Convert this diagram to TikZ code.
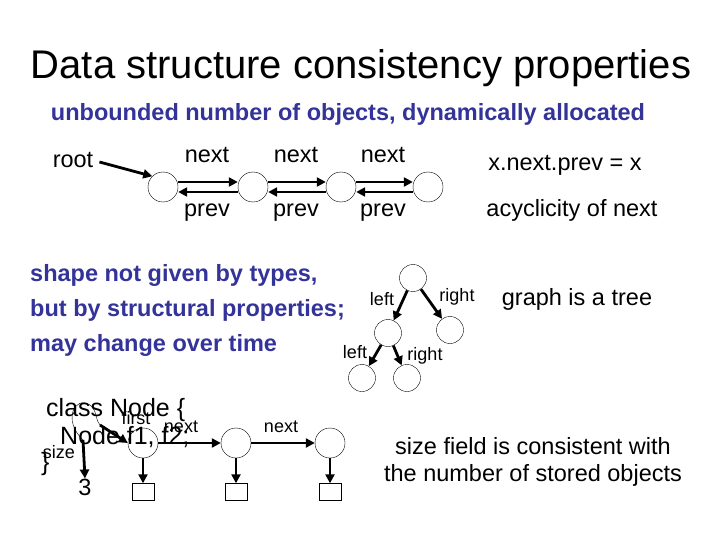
\documentclass[tikz,border=0pt]{standalone}
\usepackage{fontspec}
\setmainfont{Liberation Sans}
\usetikzlibrary{arrows.meta}
\definecolor{navy}{HTML}{333399}
\begin{document}
\begin{tikzpicture}[x=1pt,y=-1pt,
  obj/.style={circle,draw,thin,minimum size=30pt,inner sep=0},
  box/.style={draw,thin,minimum width=22pt,minimum height=17pt,inner sep=0},
  lnk/.style={line width=2.8pt,-{Triangle[length=9pt,width=9pt]}},
  lab/.style={font=\fontsize{23.5}{23.5}\selectfont,inner sep=0},
  sm/.style={font=\fontsize{18}{18}\selectfont,inner sep=0},
  blue/.style={text=navy,font=\fontsize{23.5}{28}\selectfont\bfseries,inner sep=0}]
\useasboundingbox (0,0) rectangle (720,540);
\node[font=\fontsize{40}{40}\selectfont,inner sep=0] (title) at (361,68) {Data structure consistency properties};
\node[blue] (sub) at (348,114) {unbounded number of objects, dynamically allocated};
% top list
\node[lab] (root) at (73,160) {root};
\node[obj] (a) at (163,187) {};
\node[obj] (b) at (253,187) {};
\node[obj] (c) at (341,187) {};
\node[obj] (d) at (428,187) {};
\draw[lnk] (root.east)++(6,2) coordinate (r0) (r0) -- (a.north west);
\foreach \u/\v/\x in {a/b/207,b/c/296,c/d/383}{
  \draw[lnk] ([yshift=5pt]\u.east) -- ([yshift=5pt]\v.west);
  \draw[lnk] ([yshift=-5pt]\v.west) -- ([yshift=-5pt]\u.east);
  \node[lab] at (\x,155) {next};
  \node[lab] at (\x,213) {prev};
}
\node[lab] (np) at (565,165) {x.next.prev = x};
\node[lab] (ac) at (572,210) {acyclicity of next};
% shape text
\node[blue,align=left,anchor=west,text depth=0pt] (sh) at (30,308) {shape not given by types,\\[7pt]but by structural properties;\\[7pt]may change over time};
% tree
\node[obj,minimum size=27pt] (t) at (413,278) {};
\node[obj,minimum size=27pt] (tl) at (388,333) {};
\node[obj,minimum size=27pt] (tr) at (450,330) {};
\node[obj,minimum size=27pt] (tll) at (362,378) {};
\node[obj,minimum size=27pt] (tlr) at (407,378) {};
\draw[lnk] (t) -- (tl);
\draw[lnk] (t) -- (tr);
\draw[lnk] (tl) -- (tll);
\draw[lnk] (tl) -- (tlr);
\node[sm] at (382,299) {left};
\node[sm] at (457,297) {right};
\node[sm] at (355,352) {left};
\node[sm] at (425,356) {right};
\node[lab] (tree) at (577,299) {graph is a tree};
% bottom
\node[obj] (n1) at (143,443) {};
\node[obj] (n2) at (236,443) {};
\node[obj] (n3) at (330,443) {};
\node[box] (b1) at (143,492) {};
\node[box] (b2) at (236,492) {};
\node[box] (b3) at (330,492) {};
\foreach \n/\b in {n1/b1,n2/b2,n3/b3}{\draw[lnk] (\n) -- (\b);}
\draw[lnk] (n1) -- (n2);
\draw[lnk] (n2) -- (n3);
\node[sm] at (181,427) {next};
\node[sm] at (281,427) {next};
\node[font=\fontsize{25}{25}\selectfont,inner sep=0,anchor=west] (cls) at (46,410) {class Node \{};
\node[font=\fontsize{25}{25}\selectfont,inner sep=0,anchor=west] (fld) at (60,437) {Node f1, f2;};
\node[font=\fontsize{25}{25}\selectfont,inner sep=0,anchor=west] (cb) at (41,464) {\}};
\node[sm] (sz) at (59,452) {size};
\node[sm] (fi) at (136,418) {first};
\node[lab] (three) at (85,487) {3};
\coordinate (o) at (83,440);
\draw[thin] (o) .. controls (62,420) and (75,395) .. (90,405) .. controls (98,412) and (95,420) .. (100,425);
\draw[lnk] (100,425) -- (n1.west);
\draw[lnk] (o) -- (three.north);
\node[lab,align=center] (sf) at (533,462) {size field is consistent with\\[4pt]the number of stored objects};
\end{tikzpicture}
\end{document}
